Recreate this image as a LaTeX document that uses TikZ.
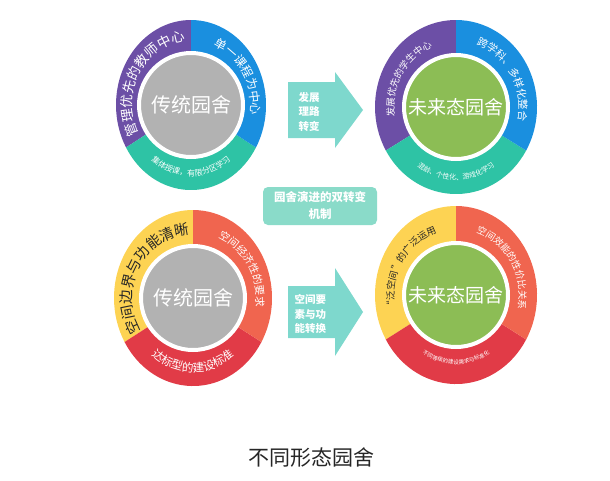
\documentclass[tikz,border=0pt]{standalone}
\usepackage{fontspec}
\setmainfont{Noto Sans CJK SC}
\usepackage{xcolor}
\usepackage{tikz}
\usetikzlibrary{decorations.text}

\definecolor{ringviolet}{HTML}{6C4FA6}
\definecolor{ringblue}{HTML}{1A8FDF}
\definecolor{ringteal}{HTML}{2EC3A5}
\definecolor{ringyellow}{HTML}{FDD353}
\definecolor{ringcoral}{HTML}{F0654F}
\definecolor{ringred}{HTML}{E13B47}
\definecolor{hubgray}{HTML}{B2B2B2}
\definecolor{hubgreen}{HTML}{8CBD55}
\definecolor{flowteal}{HTML}{7ED8CD}
\definecolor{boxteal}{HTML}{8ADBC9}

\begin{document}
\begin{tikzpicture}[
        x=1pt, y=1pt,
        hub/.style={
            circle,
            draw=white,
            line width=4pt,
            minimum size=104pt,
            inner sep=0pt,
            text=white
        },
        flow/.style={fill=flowteal},
        flowtext/.style={
            align=left,
            text=white,
            font=\bfseries\fontsize{10.5}{14.5}\selectfont
        },
        mechbox/.style={
            fill=boxteal,
            rounded corners=5pt,
            align=center,
            minimum width=114pt,
            minimum height=38pt,
            text=white,
            font=\bfseries\fontsize{11.5}{17}\selectfont
        },
        arclabel/.style n args={3}{
            decoration={text along path, text align=center, text color=#1,
                text={|\fontsize{#2}{#2}\selectfont|#3}},
            decorate
        }
    ]

    \useasboundingbox (0,0) rectangle (610,-480);

    % top left ring
    \begin{scope}[shift={(191,-105)}]
        \fill[ringviolet] (0,0) -- (90:75 and 85) arc[start angle=90, end angle=210, x radius=75, y radius=85] -- cycle;
        \fill[ringteal] (0,0) -- (210:75 and 85) arc[start angle=210, end angle=330, x radius=75, y radius=85] -- cycle;
        \fill[ringblue] (0,0) -- (330:75 and 85) arc[start angle=330, end angle=450, x radius=75, y radius=85] -- cycle;
        \path[arclabel={white}{13.5}{管理优先的教师中心}] (216:59 and 64) arc[start angle=216, end angle=86, x radius=59, y radius=64];
        \path[arclabel={white}{12}{单一课程为中心}] (90:60 and 64) arc[start angle=90, end angle=-30, x radius=60, y radius=64];
        \path[arclabel={white}{8}{集体授课，有限分区学习}] (210:63 and 71) arc[start angle=210, end angle=330, x radius=63, y radius=71];
    \end{scope}
    \node[hub, fill=hubgray, font=\fontsize{20}{20}\selectfont] (oldtop) at (191,-105) {传统园舍};

    % top right ring
    \begin{scope}[shift={(456,-107)}]
        \fill[ringviolet] (0,0) -- (90:81 and 87) arc[start angle=90, end angle=210, x radius=81, y radius=87] -- cycle;
        \fill[ringteal] (0,0) -- (210:81 and 87) arc[start angle=210, end angle=330, x radius=81, y radius=87] -- cycle;
        \fill[ringblue] (0,0) -- (330:81 and 87) arc[start angle=330, end angle=450, x radius=81, y radius=87] -- cycle;
        \path[arclabel={white}{9.5}{发展优先的学生中心}] (210:62 and 65) arc[start angle=210, end angle=90, x radius=62, y radius=65];
        \path[arclabel={white}{10.5}{跨学科、多样化整合}] (90:63 and 66) arc[start angle=90, end angle=-30, x radius=63, y radius=66];
        \path[arclabel={white}{7}{混龄、个性化、游戏化学习}] (210:66 and 73) arc[start angle=210, end angle=330, x radius=66, y radius=73];
    \end{scope}
    \node[hub, fill=hubgreen, font=\fontsize{19}{19}\selectfont] (newtop) at (456,-107) {未来态园舍};

    % bottom left ring
    \begin{scope}[shift={(193,-298)}]
        \fill[ringyellow] (0,0) -- (90:79 and 88) arc[start angle=90, end angle=210, x radius=79, y radius=88] -- cycle;
        \fill[ringred] (0,0) -- (210:79 and 88) arc[start angle=210, end angle=330, x radius=79, y radius=88] -- cycle;
        \fill[ringcoral] (0,0) -- (330:79 and 88) arc[start angle=330, end angle=450, x radius=79, y radius=88] -- cycle;
        \path[arclabel={black!85}{14.5}{空间边界与功能清晰}] (218:61 and 64) arc[start angle=218, end angle=86, x radius=61, y radius=64];
        \path[arclabel={white}{10.5}{空间经济性的要求}] (90:63 and 66) arc[start angle=90, end angle=-30, x radius=63, y radius=66];
        \path[arclabel={white}{11.5}{达标型的建设标准}] (210:66 and 74) arc[start angle=210, end angle=330, x radius=66, y radius=74];
    \end{scope}
    \node[hub, fill=hubgray, font=\fontsize{20}{20}\selectfont] (oldbottom) at (193,-298) {传统园舍};

    % bottom right ring
    \begin{scope}[shift={(456,-295)}]
        \fill[ringyellow] (0,0) -- (90:81 and 89) arc[start angle=90, end angle=210, x radius=81, y radius=89] -- cycle;
        \fill[ringred] (0,0) -- (210:81 and 89) arc[start angle=210, end angle=330, x radius=81, y radius=89] -- cycle;
        \fill[ringcoral] (0,0) -- (330:81 and 89) arc[start angle=330, end angle=450, x radius=81, y radius=89] -- cycle;
        \path[arclabel={black!85}{9.5}{“泛空间”的广泛运用}] (210:62 and 65) arc[start angle=210, end angle=90, x radius=62, y radius=65];
        \path[arclabel={white}{9.5}{空间效能的性价比关系}] (90:63 and 66) arc[start angle=90, end angle=-30, x radius=63, y radius=66];
        \path[arclabel={white}{5.5}{不同等级的建设需求与标准化}] (210:64 and 69) arc[start angle=210, end angle=330, x radius=64, y radius=69];
    \end{scope}
    \node[hub, fill=hubgreen, font=\fontsize{19}{19}\selectfont] (newbottom) at (456,-295) {未来态园舍};

    % shift arrows
    \fill[flow] (288,-82) -- (335,-82) -- (335,-72) -- (363,-110) -- (335,-148) -- (335,-138) -- (288,-138) -- cycle;
    \node[flowtext, anchor=west] (pathshift) at (295,-112) {发展\\理路\\转变};

    \fill[flow] (288,-286) -- (335,-286) -- (335,-268) -- (363,-312) -- (335,-356) -- (335,-338) -- (288,-338) -- cycle;
    \node[flowtext, anchor=west] (spaceshift) at (291,-314) {空间要\\素与功\\能转换};

    \node[mechbox] (mechanism) at (320,-206) {园舍演进的双转变\\机制};

    \node[text=black!85, font=\fontsize{21}{21}\selectfont] (caption) at (311,-457) {不同形态园舍};

\end{tikzpicture}
\end{document}
